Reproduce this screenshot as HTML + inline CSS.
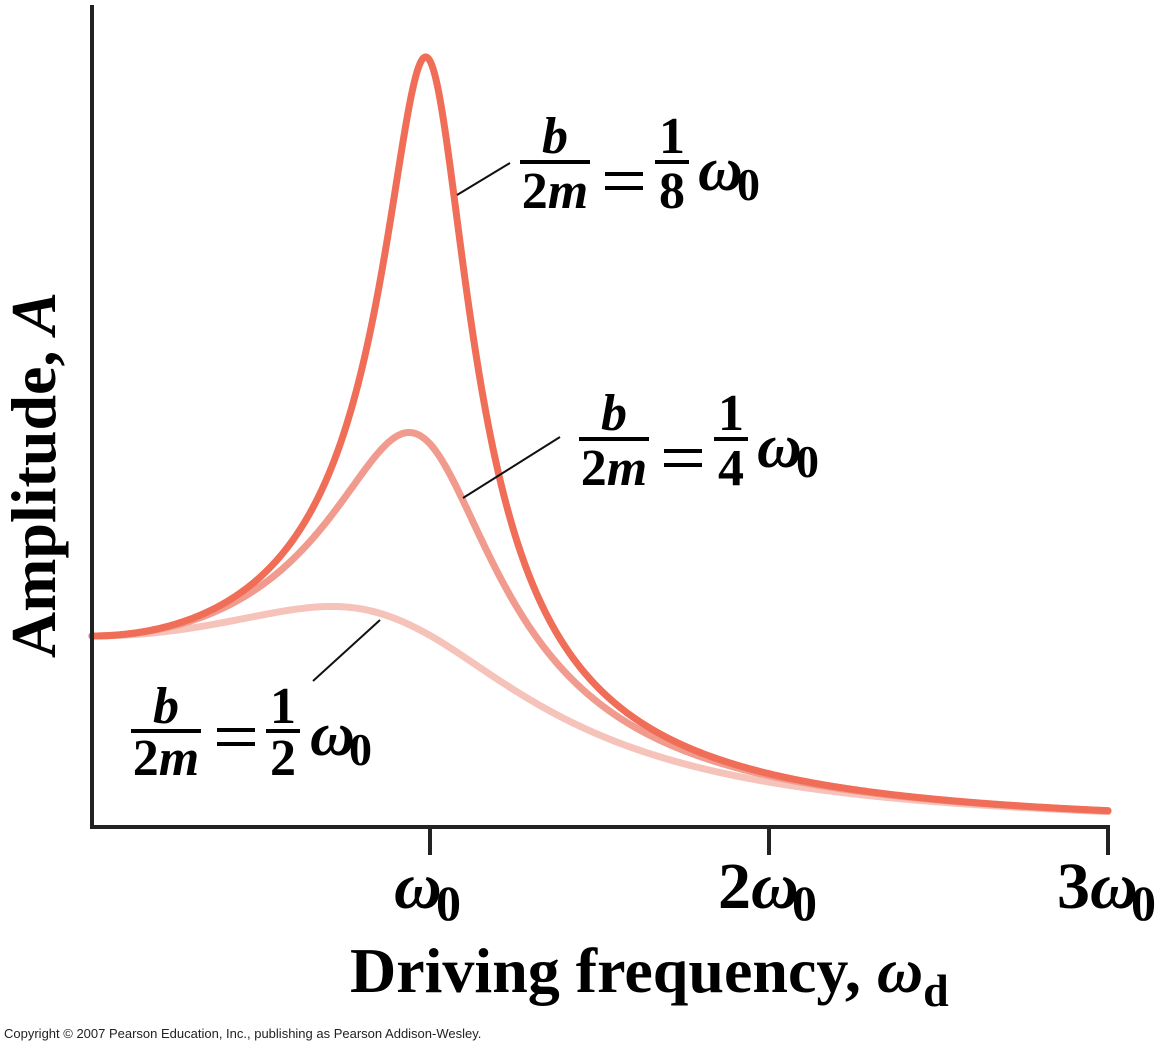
<!DOCTYPE html>
<html><head><meta charset="utf-8"><style>
html,body{margin:0;padding:0;background:#fff;width:1165px;height:1050px;overflow:hidden}
svg{display:block}
.t{font-family:"Liberation Serif",serif;font-weight:bold;fill:#000}
</style></head><body>
<svg id="s" width="1165" height="1050" viewBox="0 0 1165 1050">
<g id="curves" fill="none" stroke-linecap="round"></g>
<line x1="92" y1="5" x2="92" y2="829" stroke="#222" stroke-width="4"/>
<line x1="90" y1="827" x2="1110" y2="827" stroke="#222" stroke-width="4"/>
<line x1="430" y1="827" x2="430" y2="855" stroke="#222" stroke-width="4"/>
<line x1="769" y1="827" x2="769" y2="855" stroke="#222" stroke-width="4"/>
<line x1="1108" y1="827" x2="1108" y2="855" stroke="#222" stroke-width="4"/>
<line x1="457" y1="195" x2="510" y2="163" stroke="#111" stroke-width="2"/>
<line x1="463" y1="498" x2="560" y2="437" stroke="#111" stroke-width="2"/>
<line x1="313" y1="681" x2="380" y2="620" stroke="#111" stroke-width="2"/>

<g class="t">
<text x="555" y="153" font-size="52" font-style="italic" text-anchor="middle">b</text>
<rect x="520" y="160" width="70" height="4"/>
<text x="555" y="208" font-size="52" text-anchor="middle">2<tspan font-style="italic">m</tspan></text>
<rect x="605" y="172" width="38" height="4"/><rect x="605" y="186" width="38" height="4"/>
<text x="672" y="153" font-size="52" text-anchor="middle">1</text>
<rect x="655" y="160" width="34" height="4"/>
<text x="672" y="208" font-size="52" text-anchor="middle">8</text>
<text x="698" y="190" font-size="62" font-style="italic">ω</text>
<text x="737" y="200" font-size="46">0</text>

<text x="614" y="430" font-size="52" font-style="italic" text-anchor="middle">b</text>
<rect x="579" y="437" width="70" height="4"/>
<text x="614" y="485" font-size="52" text-anchor="middle">2<tspan font-style="italic">m</tspan></text>
<rect x="664" y="449" width="38" height="4"/><rect x="664" y="463" width="38" height="4"/>
<text x="731" y="430" font-size="52" text-anchor="middle">1</text>
<rect x="714" y="437" width="34" height="4"/>
<text x="731" y="485" font-size="52" text-anchor="middle">4</text>
<text x="757" y="467" font-size="62" font-style="italic">ω</text>
<text x="796" y="477" font-size="46">0</text>

<text x="166" y="723" font-size="52" font-style="italic" text-anchor="middle">b</text>
<rect x="131" y="729" width="70" height="4"/>
<text x="166" y="775" font-size="52" text-anchor="middle">2<tspan font-style="italic">m</tspan></text>
<rect x="217" y="728" width="38" height="4"/><rect x="217" y="742" width="38" height="4"/>
<text x="283" y="723" font-size="52" text-anchor="middle">1</text>
<rect x="266" y="729" width="34" height="4"/>
<text x="283" y="775" font-size="52" text-anchor="middle">2</text>
<text x="310" y="755" font-size="62" font-style="italic">ω</text>
<text x="349" y="765" font-size="46">0</text>

<text x="394" y="908" font-size="66" font-style="italic">ω</text>
<text x="436" y="920" font-size="50">0</text>
<text x="718" y="908" font-size="66">2<tspan font-style="italic">ω</tspan></text>
<text x="792" y="920" font-size="50">0</text>
<text x="1057" y="908" font-size="66">3<tspan font-style="italic">ω</tspan></text>
<text x="1131" y="920" font-size="50">0</text>

<text x="350" y="992" font-size="64">Driving frequency, <tspan font-style="italic">ω</tspan><tspan font-size="46" dy="14">d</tspan></text>
<text transform="translate(55,475) rotate(-90)" font-size="64" text-anchor="middle">Amplitude, <tspan font-style="italic">A</tspan></text>
</g>
<text x="4" y="1038" font-size="13" font-family="Liberation Sans, sans-serif" fill="#222">Copyright © 2007 Pearson Education, Inc., publishing as Pearson Addison-Wesley.</text>
</svg>
<script>
var g=document.getElementById('curves');
[[0.5,'#f6c3bb'],[0.25,'#f19b8e'],[0.125,'#f06e58']].forEach(function(c){
 var gm=c[0],d='';
 for(var px=92;px<=1108;px+=1){var w=(px-92)/339;
  var k=1+0.4*Math.pow(Math.max(0,w-1),1.5);
  var A=1/Math.sqrt((Math.pow(1-w*w,2)+Math.pow(2*gm*w,2))*k);
  var y=827-191*A; d+=(px==92?'M':'L')+px+' '+y.toFixed(2);}
 var p=document.createElementNS('http://www.w3.org/2000/svg','path');
 p.setAttribute('d',d);p.setAttribute('stroke',c[1]);p.setAttribute('stroke-width','7');
 g.appendChild(p);
});
</script>
</body></html>
